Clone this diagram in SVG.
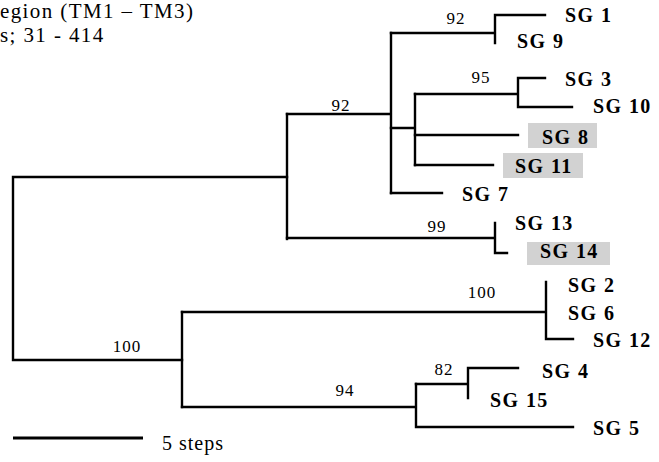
<svg xmlns="http://www.w3.org/2000/svg" width="659" height="462" viewBox="0 0 659 462">
<style>
.br{fill:none;stroke:#000;stroke-width:2.4;stroke-linecap:square}
.lb{font-family:"Liberation Serif",serif;font-weight:bold;font-size:20px;letter-spacing:1.4px;fill:#000}
.bs{font-family:"Liberation Serif",serif;font-size:17px;letter-spacing:1px;fill:#000;text-anchor:middle}
.tt{font-family:"Liberation Serif",serif;font-size:21px;letter-spacing:1.4px;fill:#000}
.hl{fill:#d2d2d2}
</style>
<rect width="659" height="462" fill="#fff"/>
<g id="title">
<text class="tt" x="0" y="18">egion (TM1 – TM3)</text>
<text class="tt" x="0" y="42">s; 31 - 414</text>
</g>
<g id="connectors">
<path class="br" d="M287,177 H13 V360 H182"/>
<path class="br" d="M287,114 V239"/>
<path class="br" d="M287,114 H391 M391,33 V193"/>
<path class="br" d="M391,33 H495 M495,15 V43 M495,15 H545"/>
<path class="br" d="M391,128 H415 M415,94 V165"/>
<path class="br" d="M415,94 H518 M518,78 V107 M518,78 H545 M518,107 H572"/>
<path class="br" d="M415,135 H518 M415,165 H493 M391,193 H442"/>
<path class="br" d="M287,238 H495 M495,223 V253 H507"/>
<path class="br" d="M182,312 V407"/>
<path class="br" d="M182,312 H546 M546,282 V339 H573"/>
<path class="br" d="M182,407 H416 M416,384 V427 H573"/>
<path class="br" d="M416,384 H468 M468,368 V398 M468,368 H518"/>
</g>
<g id="support">
<text class="bs" x="341" y="111">92</text>
<text class="bs" x="456" y="24">92</text>
<text class="bs" x="481" y="83">95</text>
<text class="bs" x="437" y="232">99</text>
<text class="bs" x="127" y="352">100</text>
<text class="bs" x="482" y="298">100</text>
<text class="bs" x="345" y="396">94</text>
<text class="bs" x="444" y="375">82</text>
</g>
<g id="sg1"><text class="lb" x="565" y="22">SG 1</text></g>
<g id="sg9"><text class="lb" x="517" y="48">SG 9</text></g>
<g id="sg3"><text class="lb" x="565" y="86">SG 3</text></g>
<g id="sg10"><text class="lb" x="593" y="113">SG 10</text></g>
<g id="sg8"><rect class="hl" x="528" y="123" width="69" height="25"/><text class="lb" x="542" y="144">SG 8</text></g>
<g id="sg11"><rect class="hl" x="503" y="153" width="80" height="25"/><text class="lb" x="515" y="173">SG 11</text></g>
<g id="sg7"><text class="lb" x="462" y="201">SG 7</text></g>
<g id="sg13"><text class="lb" x="515" y="230">SG 13</text></g>
<g id="sg14"><rect class="hl" x="527" y="242" width="83" height="23"/><text class="lb" x="540" y="258">SG 14</text></g>
<g id="sg2"><text class="lb" x="568" y="292">SG 2</text></g>
<g id="sg6"><text class="lb" x="568" y="320">SG 6</text></g>
<g id="sg12"><text class="lb" x="593" y="347">SG 12</text></g>
<g id="sg4"><text class="lb" x="542" y="378">SG 4</text></g>
<g id="sg15"><text class="lb" x="490" y="407">SG 15</text></g>
<g id="sg5"><text class="lb" x="593" y="435">SG 5</text></g>
<g id="scale">
<line x1="13" y1="438" x2="143" y2="438" stroke="#000" stroke-width="3"/>
<text class="tt" x="162" y="450" style="font-size:20px;letter-spacing:1px">5 steps</text>
</g>
</svg>
